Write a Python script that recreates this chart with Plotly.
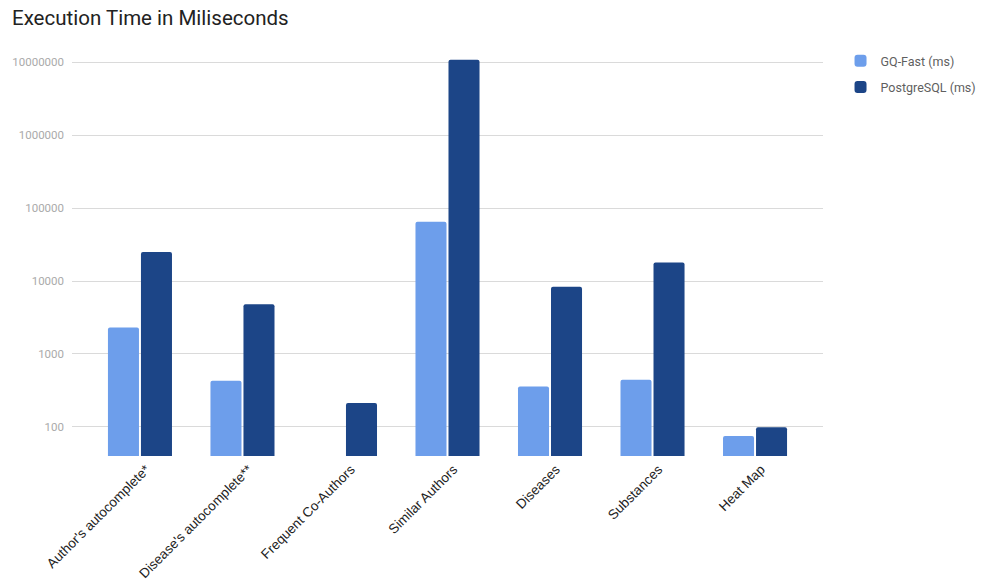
import plotly.graph_objects as go

categories = ["Author's autocomplete*", "Disease's autocomplete**", "Frequent Co-Authors",
              "Similar Authors", "Diseases", "Substances", "Heat Map"]
gq_fast = [2310, 428, None, 64900, 357, 441, 75]
postgres = [25100, 4820, 213, 10800000, 8320, 17900, 99]
tick_vals = [100, 1000, 10000, 100000, 1000000, 10000000]
tick_text = ["100", "1000", "10000", "100000", "1000000", "10000000"]

fig = go.Figure()
fig.add_trace(go.Bar(x=categories, y=gq_fast, name="GQ-Fast (ms)", legendgroup="a",
                     marker=dict(color="#6d9eeb", cornerradius=2, line=dict(width=0))))
fig.add_trace(go.Bar(x=categories, y=postgres, name="PostgreSQL (ms)", legendgroup="b",
                     marker=dict(color="#1c4587", cornerradius=2, line=dict(width=0))))

fig.update_layout(
    width=986, height=585,
    margin=dict(l=72, r=163, t=40, b=129, autoexpand=False),
    paper_bgcolor="white", plot_bgcolor="white",
    font=dict(family="Roboto", color="#222222"),
    title=dict(text="Execution Time in Miliseconds", x=12/986, xref="container", xanchor="left",
               y=1-18/585, yref="container", yanchor="middle",
               font=dict(family="Roboto", size=20.5, color="#222222")),
    barmode="group", bargap=0.356, bargroupgap=0.06,
    showlegend=True,
    legend=dict(x=1.03 - 5/751, xanchor="left", y=1 - 6/416, yanchor="top",
                font=dict(family="Roboto", size=12.5, color="#5f5f5f"),
                tracegroupgap=7, itemwidth=30),
    xaxis=dict(range=[-0.663, 6.663], tickangle=-45, showgrid=False, zeroline=False,
               showline=False, ticks="", ticklabelshift=6, ticklabelstandoff=2,
               tickfont=dict(family="Liberation Sans", size=13.5, color="#222222")),
    yaxis=dict(type="log", range=[1.6, 7.306], tickvals=tick_vals, ticktext=tick_text,
               showgrid=True, gridcolor="#dadada", gridwidth=1, zeroline=False, showline=False,
               ticks="", ticklabelstandoff=7,
               tickfont=dict(family="Roboto", size=11.5, color="#aaaaaa")),
)

fig.write_html("out.html")
